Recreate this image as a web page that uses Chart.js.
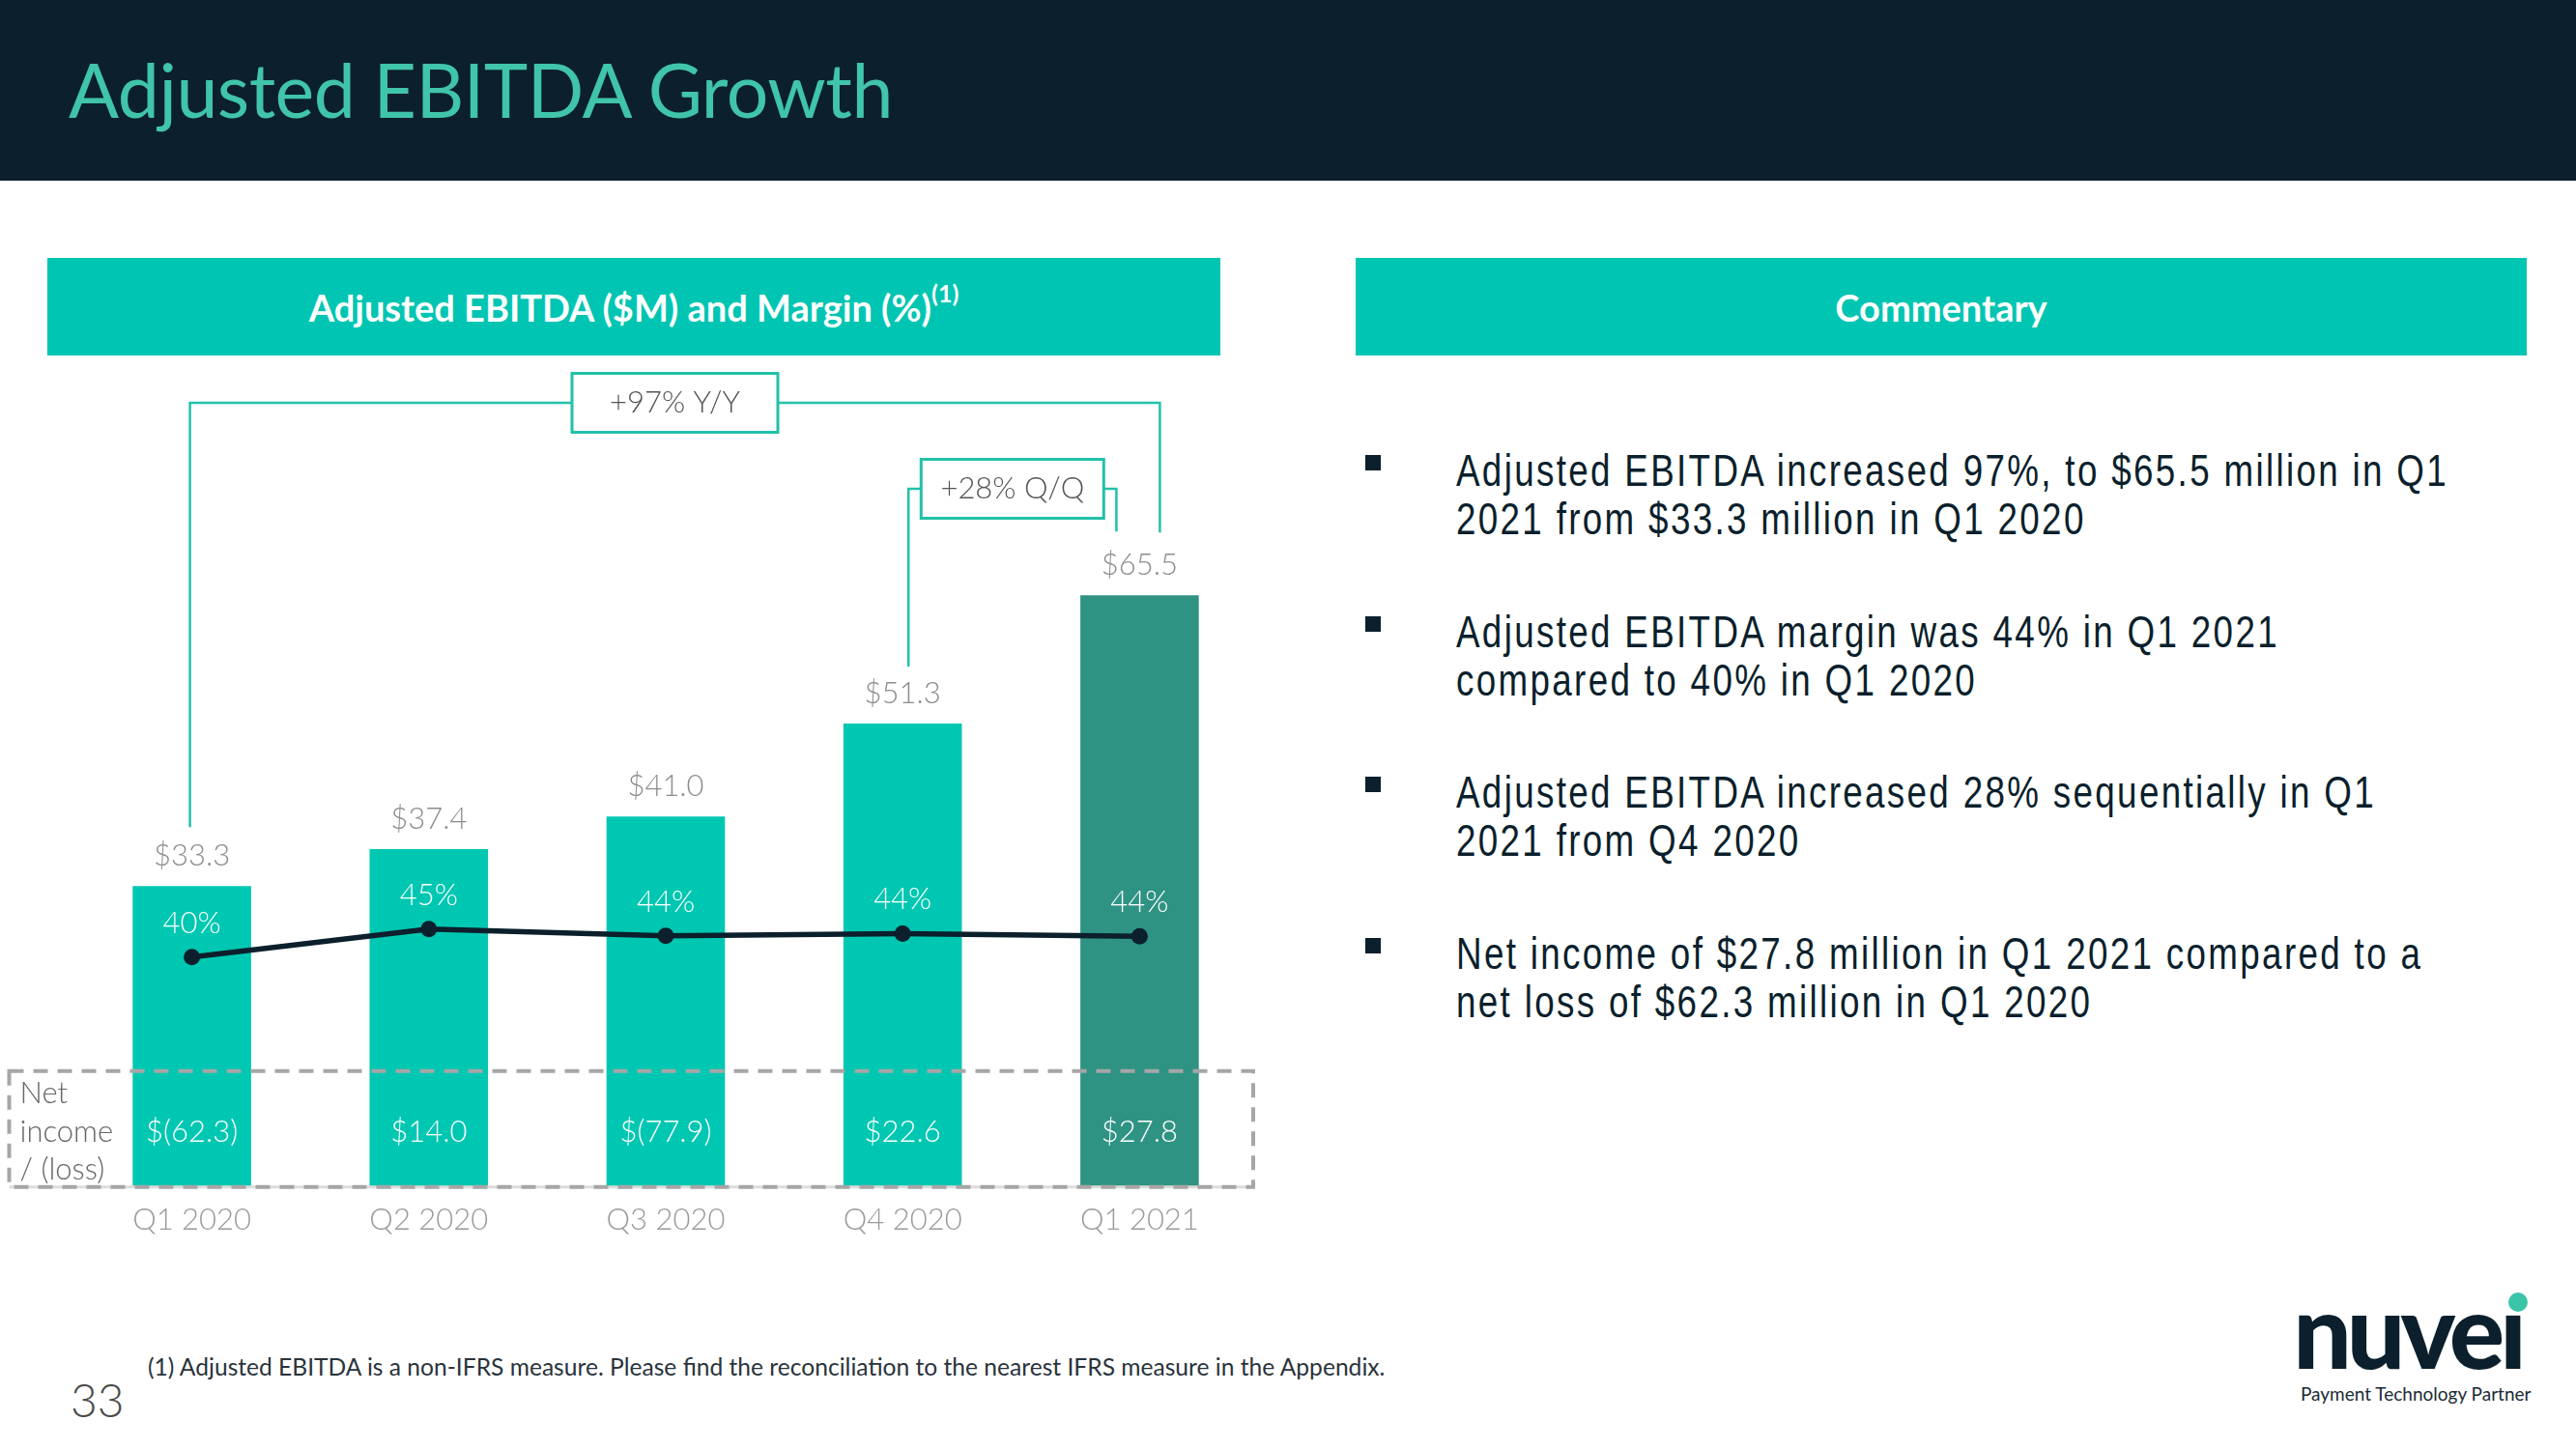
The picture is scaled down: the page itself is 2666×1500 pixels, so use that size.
<!DOCTYPE html>
<html>
<head>
<meta charset="utf-8">
<title>Adjusted EBITDA Growth</title>
<script src="https://cdn.jsdelivr.net/npm/chart.js@4.4.0/dist/chart.umd.min.js"></script>
<style>
  html, body { margin: 0; padding: 0; }
  body { width: 2666px; height: 1500px; position: relative; overflow: hidden; background: #fff; font-family: Lato, "Open Sans", sans-serif; }
  .topbar { position: absolute; left: 0; top: 0; width: 2666px; height: 187px; background: #0b1f2c; }
  .title { position: absolute; left: 71px; top: 54px; font-size: 77px; line-height: 77px; letter-spacing: -0.5px; color: #40c4aa; white-space: nowrap; }
  .panel { position: absolute; top: 267px; height: 101px; background: #00c5b2; color: #fff; font-weight: 700; font-size: 38px; display: flex; align-items: center; justify-content: center; white-space: nowrap; }
  .panel sup { font-size: 25px; position: relative; top: -6px; line-height: 0; }
  #chartWrap { position: absolute; left: 0; top: 375px; width: 1320px; height: 937px; }
  .bullet { position: absolute; left: 1413px; width: 16px; height: 16px; background: #0b1f2c; }
  .para { position: absolute; left: 1507px; font-family: "Liberation Sans", Arial, sans-serif; font-size: 46px; line-height: 49.5px; color: #0b1f2c; letter-spacing: 2.9px; white-space: nowrap; transform: scaleX(0.8); transform-origin: 0 0; }
  .foot { position: absolute; left: 153px; top: 1400px; font-size: 24.6px; line-height: 30px; color: #2a333b; white-space: nowrap; }
  .page { position: absolute; left: 73px; top: 1422px; font-size: 48px; line-height: 54px; font-weight: 300; color: #4a4a4a; }
  .logo { position: absolute; right: 56px; top: 1322px; font-size: 107px; line-height: 107px; font-weight: 900; color: #0b1f2c; letter-spacing: -5px; white-space: nowrap; text-align: right; }
  .dot { position: absolute; left: 2596px; top: 1338px; width: 20px; height: 20px; border-radius: 50%; background: #3cc4a9; }
  .tag { position: absolute; left: 2381px; top: 1431px; font-size: 19px; line-height: 24px; color: #1b2a35; white-space: nowrap; }
</style>
</head>
<body>
<div class="topbar"></div>
<div class="title">Adjusted EBITDA Growth</div>

<div class="panel" style="left:49px;width:1214px;"><span>Adjusted EBITDA ($M) and Margin (%)<sup>(1)</sup></span></div>
<div class="panel" style="left:1403px;width:1212px;"><span>Commentary</span></div>

<div id="chartWrap"><canvas id="ebitda" width="1320" height="937"></canvas></div>

<div class="bullet" style="top:471px"></div>
<div class="para" style="top:463px">Adjusted EBITDA increased 97%, to $65.5 million in Q1<br>2021 from $33.3 million in Q1 2020</div>
<div class="bullet" style="top:638px"></div>
<div class="para" style="top:630px">Adjusted EBITDA margin was 44% in Q1 2021<br>compared to 40% in Q1 2020</div>
<div class="bullet" style="top:804px"></div>
<div class="para" style="top:796px">Adjusted EBITDA increased 28% sequentially in Q1<br>2021 from Q4 2020</div>
<div class="bullet" style="top:971px"></div>
<div class="para" style="top:963px">Net income of $27.8 million in Q1 2021 compared to a<br>net loss of $62.3 million in Q1 2020</div>

<div class="foot">(1) Adjusted EBITDA is a non-IFRS measure. Please find the reconciliation to the nearest IFRS measure in the Appendix.</div>
<div class="page">33</div>
<div class="logo">nuveı</div>
<div class="dot"></div>
<div class="tag">Payment Technology Partner</div>

<script>
// values
var quarters = ['Q1 2020', 'Q2 2020', 'Q3 2020', 'Q4 2020', 'Q1 2021'];
var ebitda = [33.3, 37.4, 41.0, 51.3, 65.5];
var margin = [40.0, 45.0, 43.8, 44.2, 43.7];
var netIncome = [-62.3, 14.0, -77.9, 22.6, 27.8];

var teal = '#00c7b1';
var darkTeal = '#2f9383';
var navy = '#0b1f2c';
var lineTeal = '#22c1a9';

function money(v) {
    return v < 0 ? '$(' + Math.abs(v).toFixed(1) + ')' : '$' + v.toFixed(1);
}

var yoy = Math.round((ebitda[4] / ebitda[0] - 1) * 100);
var qoq = Math.round((ebitda[4] / ebitda[3] - 1) * 100);

var slideBits = {
    id: 'slideBits',
    afterDatasetsDraw: function (chart) {
        var ctx = chart.ctx;
        var area = chart.chartArea;
        var pts = chart.getDatasetMeta(0).data;
        var bars = chart.getDatasetMeta(1).data;
        var last = bars.length - 1;

        ctx.save();
        ctx.textAlign = 'center';
        ctx.textBaseline = 'middle';

        // $ values above bars, margin % above the points
        ctx.font = '300 31px Lato';
        bars.forEach(function (b, i) {
            ctx.fillStyle = '#8c8c8c';
            ctx.fillText(money(ebitda[i]), b.x, b.y - 31);
        });
        pts.forEach(function (p, i) {
            ctx.fillStyle = '#ffffff';
            ctx.fillText(Math.round(margin[i]) + '%', p.x, p.y - 35);
        });

        // net income row
        var boxL = area.left - 66.5, boxR = area.right - 5;
        var boxB = area.bottom, boxT = area.bottom - 120;
        bars.forEach(function (b, i) {
            ctx.fillStyle = '#ffffff';
            ctx.fillText(money(netIncome[i]), b.x, boxB - 57);
        });
        ctx.textAlign = 'left';
        ctx.fillStyle = '#666666';
        ctx.fillText('Net', boxL + 11, boxB - 97);
        ctx.fillText('income', boxL + 11, boxB - 57);
        ctx.fillText('/ (loss)', boxL + 11, boxB - 18);

        ctx.strokeStyle = '#dcdcdc';
        ctx.lineWidth = 3;
        ctx.beginPath();
        ctx.moveTo(boxL, boxB);
        ctx.lineTo(boxR, boxB);
        ctx.stroke();

        ctx.setLineDash([15, 10]);
        ctx.strokeStyle = '#a6a6a6';
        ctx.lineWidth = 4;
        ctx.strokeRect(boxL, boxT, boxR - boxL, boxB - boxT);
        ctx.setLineDash([]);

        // growth brackets
        function bracket(x1, y1, x2, y2, yTop, w, text) {
            ctx.strokeStyle = lineTeal;
            ctx.lineWidth = 2.5;
            ctx.beginPath();
            ctx.moveTo(x1, y1);
            ctx.lineTo(x1, yTop);
            ctx.lineTo(x2, yTop);
            ctx.lineTo(x2, y2);
            ctx.stroke();
            var cx = (x1 + x2) / 2, h = 61;
            ctx.fillStyle = '#ffffff';
            ctx.fillRect(cx - w / 2, yTop - h / 2, w, h);
            ctx.lineWidth = 3;
            ctx.strokeRect(cx - w / 2, yTop - h / 2, w, h);
            ctx.fillStyle = '#555555';
            ctx.textAlign = 'center';
            ctx.font = '300 31px Lato';
            ctx.fillText(text, cx, yTop);
        }
        bracket(bars[0].x - 2, bars[0].y - 61, bars[last].x + 21, bars[last].y - 65,
            area.top + 30, 213, '+' + yoy + '% Y/Y');
        bracket(bars[3].x + 6, bars[3].y - 59, bars[last].x - 24, bars[last].y - 66,
            area.top + 119, 189, '+' + qoq + '% Q/Q');

        ctx.restore();
    }
};

var ctx = document.getElementById('ebitda').getContext('2d');
var chart = new Chart(ctx, {
    data: {
        labels: quarters,
        datasets: [{
            type: 'line',
            data: margin,
            yAxisID: 'y1',
            order: 0,
            borderColor: navy,
            borderWidth: 5.5,
            pointRadius: 8.5,
            pointBackgroundColor: navy,
            pointBorderWidth: 0,
            tension: 0
        }, {
            type: 'bar',
            data: ebitda,
            yAxisID: 'y',
            order: 1,
            backgroundColor: function (c) { return c.dataIndex === quarters.length - 1 ? darkTeal : teal; },
            categoryPercentage: 1,
            barPercentage: 0.5
        }]
    },
    options: {
        responsive: false,
        animation: false,
        devicePixelRatio: 1,
        layout: { padding: { left: 76, right: 18, top: 12, bottom: 14 } },
        plugins: { legend: { display: false }, tooltip: { enabled: false } },
        scales: {
            x: {
                grid: { display: false, drawTicks: false },
                border: { display: false },
                ticks: { color: '#9a9a9a', font: { family: 'Lato', size: 31, weight: '300' }, padding: 16 }
            },
            y: { display: false, min: 0, max: 90 },
            y1: { display: false, min: -1, max: 144 }
        }
    },
    plugins: [slideBits]
});
</script>
</body>
</html>
